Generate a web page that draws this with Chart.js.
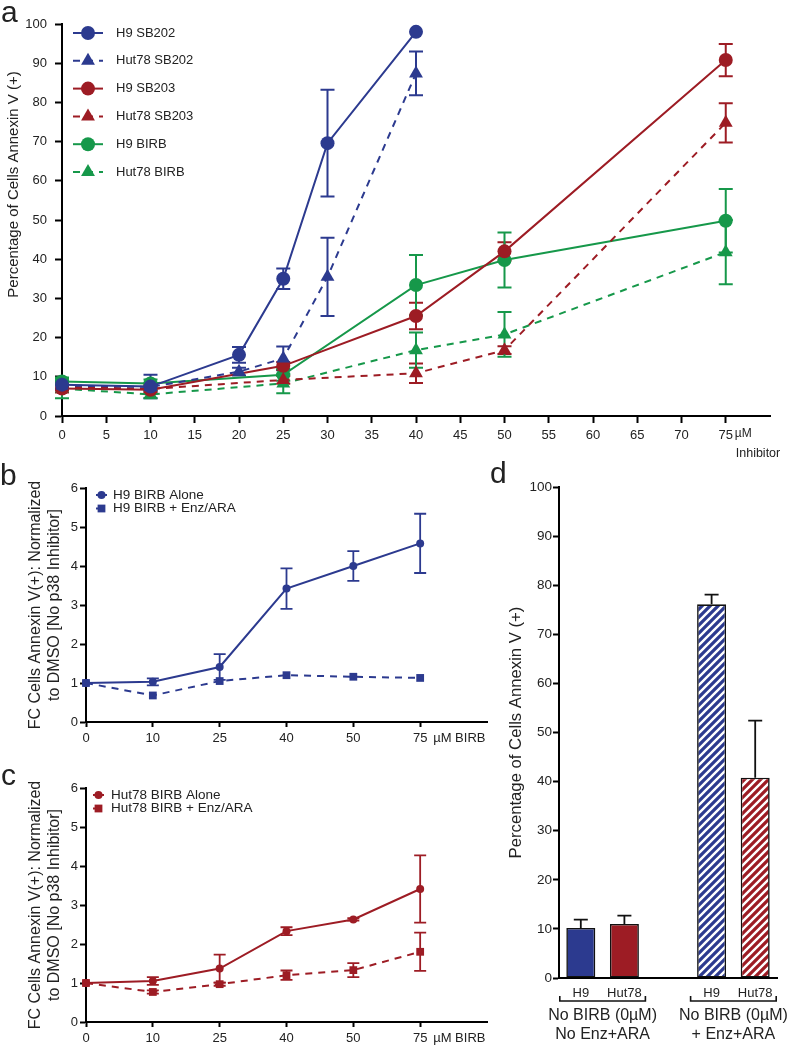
<!DOCTYPE html>
<html>
<head>
<meta charset="utf-8">
<script src="https://cdn.jsdelivr.net/npm/chart.js@4.4.1/dist/chart.umd.min.js"></script>
<style>
  body { margin: 0; background: #fff; }
  #wrap { position: relative; width: 793px; height: 1050px; }
  #wrap canvas { position: absolute; left: 0; top: 0; }
</style>
</head>
<body>
<div id="wrap">
  <canvas id="chartA" width="793" height="1050"></canvas>
  <canvas id="chartB" width="793" height="1050"></canvas>
  <canvas id="chartC" width="793" height="1050"></canvas>
  <canvas id="chartD" width="793" height="1050"></canvas>
</div>
<script>
// panel a - % Annexin V(+) vs inhibitor dose
const dosesSB202 = [0, 10, 20, 25, 30, 40];
const dosesRest = [0, 10, 25, 40, 50, 75];
const doseTicksA = [0, 5, 10, 15, 20, 25, 30, 35, 40, 45, 50, 55, 60, 65, 70, 75];
const seriesLabelsA = ['H9 SB202', 'Hut78 SB202', 'H9 SB203', 'Hut78 SB203', 'H9 BIRB', 'Hut78 BIRB'];
const h9SB202 = [8.0, 7.5, 15.6, 35.0, 69.6, 98.0];
const h9SB202Err = [1.0, 3.0, 2.0, 2.6, 13.6, 0];
const hut78SB202 = [7.8, 7.4, 11.3, 14.7, 35.5, 87.4];
const hut78SB202Err = [1.0, 1.0, 1.0, 3.0, 10.0, 5.6];
const h9SB203 = [7.0, 6.7, 12.8, 25.5, 42.0, 90.8];
const h9SB203Err = [1.0, 1.0, 1.0, 3.4, 2.3, 4.1];
const hut78SB203 = [7.5, 6.9, 9.2, 10.9, 16.8, 74.8];
const hut78SB203Err = [1.0, 1.0, 1.0, 2.5, 1.0, 5.0];
const h9BIRB = [8.8, 8.3, 10.5, 33.4, 39.8, 49.8];
const h9BIRBErr = [1.0, 1.0, 1.5, 7.7, 7.0, 8.1];
const hut78BIRB = [7.0, 5.5, 8.3, 16.8, 20.8, 41.8];
const hut78BIRBErr = [2.5, 1.0, 2.5, 4.5, 5.7, 8.2];

// panels b and c - fold change vs BIRB dose
const birbDoses = ['0', '10', '25', '40', '50', '75'];
const h9Alone = [1.0, 1.03, 1.41, 3.42, 4.0, 4.58];
const h9AloneErr = [0, 0.09, 0.33, 0.52, 0.38, 0.76];
const h9Enz = [1.0, 0.68, 1.05, 1.2, 1.16, 1.13];
const h9EnzErr = [0, 0, 0, 0, 0, 0];
const hutAlone = [1.0, 1.05, 1.37, 2.33, 2.63, 3.41];
const hutAloneErr = [0, 0.1, 0.36, 0.1, 0.03, 0.86];
const hutEnz = [1.0, 0.77, 0.97, 1.2, 1.33, 1.8];
const hutEnzErr = [0, 0.04, 0.04, 0.12, 0.18, 0.49];

// panel d - bars
const barCells = ['H9', 'Hut78', '', 'H9', 'Hut78'];
const barValues = [10.2, 11.0, null, 76.1, 40.8];
const barErr = [1.7, 1.7, null, 2.0, 11.6];
const groupLabels = [['No BIRB (0µM)', 'No Enz+ARA'], ['No BIRB (0µM)', '+ Enz+ARA']];

const BLUE = '#2c3a8f';
const RED = '#9d1c24';
const GREEN = '#16984a';
const FONT = '"Liberation Sans", Arial, sans-serif';

Chart.defaults.font.family = FONT;
Chart.defaults.color = '#222';
Chart.defaults.animation = false;

// error bars, drawn from each dataset's err array through the y scale
function errorBars(o) {
  const draw = chart => {
    const ctx = chart.ctx;
    const ys = chart.scales.y;
    chart.data.datasets.forEach((ds, i) => {
      if (!ds.err) return;
      const meta = chart.getDatasetMeta(i);
      ctx.save();
      ctx.strokeStyle = o.color || ds.borderColor;
      ctx.lineWidth = o.width;
      ds.err.forEach((e, j) => {
        if (!e) return;
        const v = meta.controller.getParsed(j).y;
        const x = meta.data[j].x;
        const top = ys.getPixelForValue(v + e);
        const bot = o.upOnly ? ys.getPixelForValue(v) : ys.getPixelForValue(v - e);
        ctx.beginPath();
        ctx.moveTo(x, top); ctx.lineTo(x, bot);
        ctx.moveTo(x - o.cap, top); ctx.lineTo(x + o.cap, top);
        if (!o.upOnly) { ctx.moveTo(x - o.cap, bot); ctx.lineTo(x + o.cap, bot); }
        ctx.stroke();
      });
      ctx.restore();
    });
  };
  return {
    id: 'errorBars',
    beforeDatasetsDraw(chart) { if (!o.onTop) draw(chart); },
    afterDatasetsDraw(chart) { if (o.onTop) draw(chart); }
  };
}

// legend with a line sample and a marker
function sampleLegend(o) {
  return {
    id: 'sampleLegend',
    afterDraw(chart) {
      const ctx = chart.ctx;
      chart.data.datasets.forEach((ds, i) => {
        const cy = o.y + i * o.step;
        ctx.save();
        ctx.strokeStyle = ds.borderColor;
        ctx.lineWidth = ds.borderWidth;
        ctx.setLineDash(ds.borderDash || []);
        ctx.beginPath();
        ctx.moveTo(o.x, cy); ctx.lineTo(o.x + o.len, cy);
        ctx.stroke();
        ctx.setLineDash([]);
        ctx.fillStyle = ds.backgroundColor;
        Chart.helpers.drawPoint(ctx, { pointStyle: ds.pointStyle, radius: ds.pointRadius, rotation: 0, borderWidth: 0 }, o.x + o.len / 2, cy);
        ctx.fillStyle = '#222';
        ctx.font = o.font;
        ctx.textBaseline = 'middle';
        ctx.textAlign = 'left';
        ctx.fillText(ds.label, o.textX, cy);
        ctx.restore();
      });
    }
  };
}

// free text: panel letters, units, rotated axis titles
function notes(items) {
  return {
    id: 'notes',
    afterDraw(chart) {
      const ctx = chart.ctx;
      items.forEach(n => {
        const x = n.at !== undefined ? chart.scales.x.getPixelForValue(n.at) + n.dx : n.x;
        ctx.save();
        ctx.font = n.font;
        ctx.fillStyle = '#222';
        ctx.textAlign = n.align || 'left';
        ctx.textBaseline = n.baseline || 'middle';
        ctx.translate(x, n.y);
        if (n.rotate) ctx.rotate(-Math.PI / 2);
        ctx.fillText(n.text, 0, 0);
        ctx.restore();
      });
    }
  };
}

// brackets under the bar groups in d
function groupBrackets(o) {
  return {
    id: 'groupBrackets',
    afterDraw(chart) {
      const ctx = chart.ctx, xs = chart.scales.x;
      o.groups.forEach((g, k) => {
        const x0 = xs.getPixelForValue(g[0]) - o.reach;
        const x1 = xs.getPixelForValue(g[1]) + o.reach;
        ctx.save();
        ctx.strokeStyle = '#111';
        ctx.lineWidth = 1.6;
        ctx.beginPath();
        ctx.moveTo(x0, o.y - o.tick); ctx.lineTo(x0, o.y); ctx.lineTo(x1, o.y); ctx.lineTo(x1, o.y - o.tick);
        ctx.stroke();
        ctx.fillStyle = '#222';
        ctx.font = o.font;
        ctx.textAlign = 'center';
        ctx.textBaseline = 'middle';
        groupLabels[k].forEach((t, m) => ctx.fillText(t, (x0 + x1) / 2, o.textY + m * o.lineStep));
        ctx.restore();
      });
    }
  };
}

function axisStyle(extra) {
  return Object.assign({
    grid: { drawOnChartArea: false, tickLength: 6, tickWidth: 2, tickColor: '#000' },
    border: { display: true, width: 2, color: '#000' }
  }, extra);
}

function lineSet(label, xs, ys, errs, color, dashed, style, r) {
  return {
    label: label,
    data: xs.map((x, i) => ({ x: x, y: ys[i] })),
    err: errs,
    borderColor: color,
    backgroundColor: color,
    borderWidth: 2,
    borderDash: dashed ? [7, 6] : [],
    pointStyle: style,
    pointRadius: r,
    pointHoverRadius: r,
    pointBorderWidth: 0,
    tension: 0,
    fill: false,
    clip: false
  };
}

// ---- panel a
new Chart(document.getElementById('chartA'), {
  type: 'line',
  data: {
    datasets: [
      lineSet(seriesLabelsA[0], dosesSB202, h9SB202, h9SB202Err, BLUE, false, 'circle', 7),
      lineSet(seriesLabelsA[1], dosesSB202, hut78SB202, hut78SB202Err, BLUE, true, 'triangle', 8),
      lineSet(seriesLabelsA[2], dosesRest, h9SB203, h9SB203Err, RED, false, 'circle', 7),
      lineSet(seriesLabelsA[3], dosesRest, hut78SB203, hut78SB203Err, RED, true, 'triangle', 8),
      lineSet(seriesLabelsA[4], dosesRest, h9BIRB, h9BIRBErr, GREEN, false, 'circle', 7),
      lineSet(seriesLabelsA[5], dosesRest, hut78BIRB, hut78BIRBErr, GREEN, true, 'triangle', 8)
    ]
  },
  plugins: [
    errorBars({ width: 2, cap: 7 }),
    sampleLegend({ x: 73, len: 30, y: 33, step: 27.8, textX: 116, font: '13px ' + FONT }),
    notes([
      { text: 'a', x: 1, y: 22, font: '30px ' + FONT, baseline: 'alphabetic' },
      { text: 'Percentage of Cells Annexin V (+)', x: 14, y: 184.5, rotate: true, align: 'center', font: '15px ' + FONT },
      { text: 'µM', at: 75, dx: 9, y: 434, font: '12px ' + FONT },
      { text: 'Inhibitor', at: 75, dx: 10, y: 454, font: '12.5px ' + FONT }
    ])
  ],
  options: {
    responsive: false,
    layout: { padding: { left: 6, top: 24, right: 23, bottom: 584 } },
    plugins: { legend: { display: false }, tooltip: { enabled: false } },
    scales: {
      x: axisStyle({
        type: 'linear', min: 0, max: 80,
        afterFit(s) { s.height = 50; },
        afterBuildTicks(s) { s.ticks = doseTicksA.map(v => ({ value: v })); },
        grid: { drawOnChartArea: false, tickLength: 7, tickWidth: 2, tickColor: '#000' },
        ticks: { font: { size: 13, family: '"Liberation Sans Narrow", ' + FONT }, padding: 5, maxRotation: 0 }
      }),
      y: axisStyle({
        min: 0, max: 100,
        afterFit(s) { s.width = 56; },
        grid: { drawOnChartArea: false, tickLength: 7, tickWidth: 2, tickColor: '#000' },
        ticks: { stepSize: 10, font: { size: 13 }, padding: 8 }
      })
    }
  }
});

// ---- panels b and c
function foldChart(id, series, color, top, xHeight, legendPos, letter) {
  const padBottom = 1050 - (top + 234) - xHeight;
  new Chart(document.getElementById(id), {
    type: 'line',
    data: {
      datasets: series.map(s => lineSet(s.label, birbDoses.map((d, i) => i), s.values, s.err, color, s.dashed, s.style, s.r))
    },
    plugins: [
      errorBars({ width: 1.8, cap: 6 }),
      sampleLegend(Object.assign({ len: 11, step: 13.5, font: '13.5px ' + FONT }, legendPos)),
      notes([
        letter,
        { text: 'µM BIRB', at: 5, dx: 13, y: top + 250, font: '13px ' + FONT }
      ])
    ],
    options: {
      responsive: false,
      layout: { padding: { left: 26, top: top, right: 306, bottom: padBottom } },
      plugins: { legend: { display: false }, tooltip: { enabled: false } },
      scales: {
        x: axisStyle({
          type: 'linear', min: 0, max: 6,
          afterFit(s) { s.height = xHeight; },
          afterBuildTicks(s) { s.ticks = birbDoses.map((d, i) => ({ value: i })); },
          ticks: { font: { size: 13 }, padding: 4, maxRotation: 0, callback: v => birbDoses[v] },
          grid: { drawOnChartArea: false, tickLength: 5, tickWidth: 2, tickColor: '#000' }
        }),
        y: axisStyle({
          min: 0, max: 6,
          afterFit(s) { s.width = 60; },
          ticks: { stepSize: 1, font: { size: 13 }, padding: 2 },
          title: { display: true, text: ['FC Cells Annexin V(+): Normalized', 'to DMSO [No p38 Inhibitor]'], font: { size: 16 }, padding: 0, color: '#222' }
        })
      }
    }
  });
}

foldChart('chartB', [
  { label: 'H9 BIRB Alone', values: h9Alone, err: h9AloneErr, dashed: false, style: 'circle', r: 4 },
  { label: 'H9 BIRB + Enz/ARA', values: h9Enz, err: h9EnzErr, dashed: true, style: 'rect', r: 5.5 }
], BLUE, 488, 30, { x: 96, y: 495, textX: 113 },
  { text: 'b', x: 0, y: 485, font: '30px ' + FONT, baseline: 'alphabetic' });

foldChart('chartC', [
  { label: 'Hut78 BIRB Alone', values: hutAlone, err: hutAloneErr, dashed: false, style: 'circle', r: 4 },
  { label: 'Hut78 BIRB + Enz/ARA', values: hutEnz, err: hutEnzErr, dashed: true, style: 'rect', r: 5.5 }
], RED, 788, 28, { x: 93, y: 795, textX: 111 },
  { text: 'c', x: 1, y: 785, font: '30px ' + FONT, baseline: 'alphabetic' });

// ---- panel d
function stripes(canvas, color) {
  const c = document.createElement('canvas');
  c.width = 8; c.height = 8;
  const g = c.getContext('2d');
  g.fillStyle = color;
  g.fillRect(0, 0, 8, 8);
  g.strokeStyle = '#fff';
  g.lineWidth = 2.4;
  g.beginPath();
  g.moveTo(-1, 9); g.lineTo(9, -1);
  g.moveTo(-3, 3); g.lineTo(3, -3);
  g.moveTo(5, 11); g.lineTo(11, 5);
  g.stroke();
  return canvas.getContext('2d').createPattern(c, 'repeat');
}

const canvasD = document.getElementById('chartD');
new Chart(canvasD, {
  type: 'bar',
  data: {
    labels: barCells,
    datasets: [{
      data: barValues,
      err: barErr,
      backgroundColor: [BLUE, RED, '#fff', stripes(canvasD, BLUE), stripes(canvasD, RED)],
      borderColor: '#111',
      borderWidth: 1.6,
      borderSkipped: false,
      barPercentage: 0.665,
      categoryPercentage: 1
    }]
  },
  plugins: [
    errorBars({ width: 1.8, cap: 7, upOnly: true, onTop: true, color: '#111' }),
    groupBrackets({ groups: [[0, 1], [3, 4]], reach: 21, y: 1001, tick: 5, font: '16px ' + FONT, textY: 1016, lineStep: 19 }),
    notes([{ text: 'd', x: 490, y: 483, font: '30px ' + FONT, baseline: 'alphabetic' }])
  ],
  options: {
    responsive: false,
    layout: { padding: { left: 506, top: 487, right: 16, bottom: 52 } },
    plugins: { legend: { display: false }, tooltip: { enabled: false } },
    scales: {
      x: {
        afterFit(s) { s.height = 20; },
        grid: { display: false, drawTicks: false },
        border: { display: true, width: 2, color: '#000' },
        ticks: { font: { size: 13 }, padding: 8 }
      },
      y: axisStyle({
        min: 0, max: 100,
        afterFit(s) { s.width = 53; },
        ticks: { stepSize: 10, font: { size: 13.5 }, padding: 1 },
        title: { display: true, text: 'Percentage of Cells Annexin V (+)', font: { size: 16.7 }, padding: 0, color: '#222' }
      })
    }
  }
});
</script>
</body>
</html>
